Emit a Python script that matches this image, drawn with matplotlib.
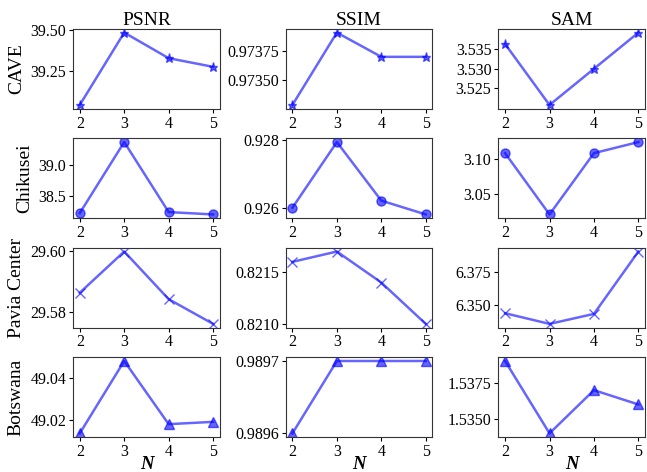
import numpy as np
import matplotlib
matplotlib.use("Agg")
import matplotlib.pyplot as plt

plt.rcParams['font.family'] = ['Liberation Serif', 'DejaVu Serif']

N = [2, 3, 4, 5]
datasets = ["CAVE", "Chikusei", "Pavia Center", "Botswana"]
metrics = ["PSNR", "SSIM", "SAM"]
markers = ["*", "o", "x", "^"]

# CAVE
cave_psnr = [39.040, 39.484, 39.327, 39.274]
cave_ssim = [0.973294, 0.973900, 0.973697, 0.973697]
cave_sam = [3.5363, 3.5208, 3.5300, 3.5392]
# Chikusei
chik_psnr = [38.237, 39.358, 38.253, 38.216]
chik_ssim = [0.92600, 0.92795, 0.92621, 0.92580]
chik_sam = [3.108, 3.0205, 3.108, 3.1238]
# Pavia Center
pavia_psnr = [29.5862, 29.5997, 29.5841, 29.5760]
pavia_ssim = [0.82160, 0.82170, 0.82140, 0.82100]
pavia_sam = [6.3434, 6.3352, 6.3429, 6.3908]
# Botswana
bots_psnr = [49.0134, 49.0480, 49.0178, 49.0189]
bots_ssim = [0.98960, 0.98970, 0.98970, 0.98970]
bots_sam = [1.53898, 1.53402, 1.53698, 1.53600]

values = [
    [cave_psnr, cave_ssim, cave_sam],
    [chik_psnr, chik_ssim, chik_sam],
    [pavia_psnr, pavia_ssim, pavia_sam],
    [bots_psnr, bots_ssim, bots_sam],
]

yticks = [
    [[39.25, 39.50], [0.97350, 0.97375], [3.525, 3.530, 3.535]],
    [[38.5, 39.0], [0.926, 0.928], [3.05, 3.10]],
    [[29.58, 29.60], [0.8210, 0.8215], [6.350, 6.375]],
    [[49.02, 49.04], [0.9896, 0.9897], [1.5350, 1.5375]],
]
yfmt = [
    ["%.2f", "%.5f", "%.3f"],
    ["%.1f", "%.3f", "%.2f"],
    ["%.2f", "%.4f", "%.3f"],
    ["%.2f", "%.4f", "%.4f"],
]

fig, axes = plt.subplots(4, 3, figsize=(6.47, 4.72), dpi=100)
plt.subplots_adjust(left=0.113, right=0.997, top=0.9386, bottom=0.0742,
                    wspace=0.45, hspace=0.375)

for i in range(4):
    for j in range(3):
        ax = axes[i, j]
        ax.plot(N, values[i][j], color='blue', alpha=0.6, lw=1.8,
                marker=markers[i], markersize=6.5)
        ax.set_xticks(N)
        ax.set_yticks(yticks[i][j])
        ax.set_yticklabels([yfmt[i][j] % v for v in yticks[i][j]])
        ax.tick_params(labelsize=11.5, length=3, width=0.8, pad=2)
        for s in ax.spines.values():
            s.set_color('#333333')
        if i == 0:
            ax.set_title(metrics[j], fontsize=14, pad=3)
        if j == 0:
            ax.set_ylabel(datasets[i], fontsize=14, labelpad=4)
        if i == 3:
            ax.set_xlabel("N", fontsize=13.5, fontweight='bold', style='italic', labelpad=-3)

fig.savefig("out.png", dpi=100)
